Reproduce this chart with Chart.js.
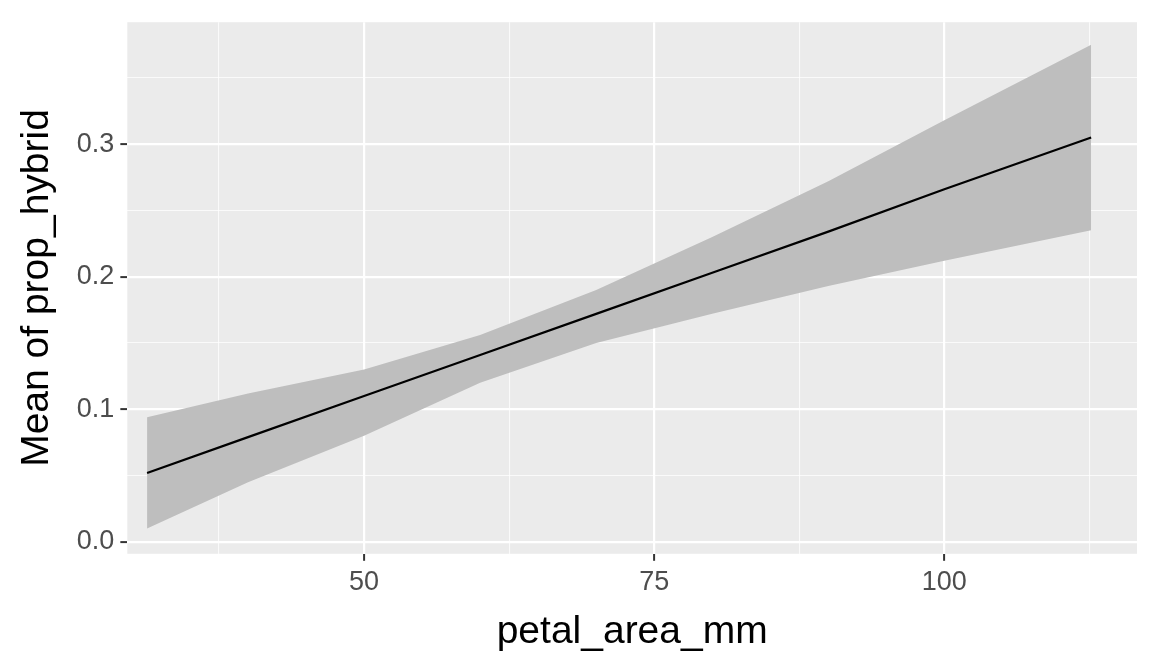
<!DOCTYPE html>
<html><head><meta charset="utf-8">
<script src="https://cdn.jsdelivr.net/npm/chart.js@4"></script>
<style>html,body{margin:0;padding:0;background:#fff}#w{width:1152px;height:672px}</style>
</head><body><div id="w"><canvas id="c"></canvas></div>
<script>
const xs = [31.3, 40, 50, 60, 70, 80, 90, 100, 112.65];
const fit = [0.052, 0.079, 0.110, 0.141, 0.172, 0.203, 0.234, 0.266, 0.305];
const upper = [0.094, 0.112, 0.130, 0.156, 0.190, 0.230, 0.272, 0.318, 0.375];
const lower = [0.010, 0.045, 0.080, 0.120, 0.150, 0.172, 0.193, 0.212, 0.235];
const xTicks = [37.5, 50, 62.5, 75, 87.5, 100, 112.5];
const xMajor = [50, 75, 100];
const yTicks = [0, 0.05, 0.1, 0.15, 0.2, 0.25, 0.3, 0.35];
const yMajor = [0, 0.1, 0.2, 0.3];
const pts = a => xs.map((x, i) => ({x, y: a[i]}));
const isMaj = (v, m) => m.some(t => Math.abs(t - v) < 1e-9);
const bg = {id:'bg', beforeDraw(c){const a=c.chartArea,g=c.ctx;g.save();g.fillStyle='#EBEBEB';g.fillRect(a.left,a.top,a.right-a.left,a.bottom-a.top);g.restore();}};
new Chart(document.getElementById('c'), {
  type: 'line',
  data: {datasets: [
    {data: pts(upper), order: 2, borderWidth: 0, pointRadius: 0, fill: '+1', backgroundColor: '#BEBEBE', tension: 0},
    {data: pts(lower), order: 3, borderWidth: 0, pointRadius: 0, fill: false, tension: 0},
    {data: pts(fit), order: 0, borderColor: '#000', borderWidth: 2.2, pointRadius: 0, fill: false, tension: 0}
  ]},
  options: {
    responsive: true, maintainAspectRatio: false, animation: false,
    layout: {padding: {top: 14, right: 15, left: 10, bottom: 12}},
    plugins: {legend: {display: false}, tooltip: {enabled: false}},
    scales: {
      x: {type: 'linear', min: 29.6, max: 116.6, border: {display: false},
        afterBuildTicks: s => { s.ticks = xTicks.map(v => ({value: v})); },
        grid: {color: c => isMaj(c.tick.value, xMajor) ? '#FFFFFF' : 'rgba(255,255,255,0.75)',
               lineWidth: c => isMaj(c.tick.value, xMajor) ? 2.2 : 1.1,
               tickColor: c => isMaj(c.tick.value, xMajor) ? '#333333' : 'rgba(0,0,0,0)', tickLength: 7, tickWidth: 2},
        ticks: {autoSkip: false, maxRotation: 0, color: '#4D4D4D', font: {family: 'Liberation Sans', size: 27}, padding: 6,
          callback: v => isMaj(v, xMajor) ? String(v) : ''},
        title: {display: true, text: 'petal_area_mm', color: '#000', font: {family: 'Liberation Sans', size: 39}, padding: {top: 4}}},
      y: {type: 'linear', min: -0.009, max: 0.392, border: {display: false},
        afterBuildTicks: s => { s.ticks = yTicks.map(v => ({value: v})); },
        grid: {color: c => isMaj(c.tick.value, yMajor) ? '#FFFFFF' : 'rgba(255,255,255,0.75)',
               lineWidth: c => isMaj(c.tick.value, yMajor) ? 2.2 : 1.1,
               tickColor: c => isMaj(c.tick.value, yMajor) ? '#333333' : 'rgba(0,0,0,0)', tickLength: 7, tickWidth: 2},
        ticks: {autoSkip: false, color: '#4D4D4D', font: {family: 'Liberation Sans', size: 27}, padding: 6,
          callback: v => isMaj(v, yMajor) ? v.toFixed(1) : ''},
        title: {display: true, text: 'Mean of prop_hybrid', color: '#000', font: {family: 'Liberation Sans', size: 39}, padding: {bottom: 10}}}
    }
  },
  plugins: [bg]
});
</script></body></html>
